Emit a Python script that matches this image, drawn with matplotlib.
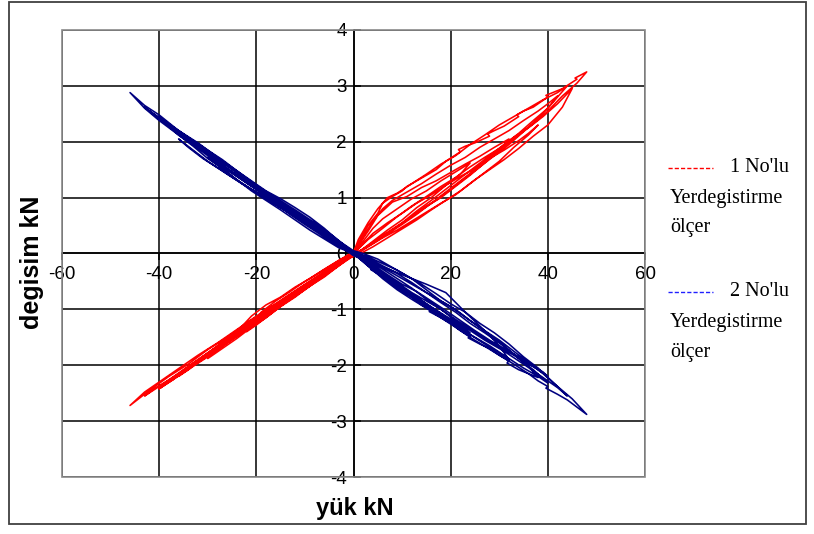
import matplotlib
matplotlib.use("Agg")
import matplotlib.pyplot as plt
from matplotlib.patches import Rectangle
from matplotlib.lines import Line2D
import matplotlib.font_manager as fm

# ---------------- data ----------------
x_ticks = [-60, -40, -20, 0, 20, 40, 60]
y_ticks = [-4, -3, -2, -1, 0, 1, 2, 3, 4]

# series 1 (red) - "1 No'lu Yerdegistirme ölçer", load cycles
red1_x = [0, 2, 4, 6, 9, 12, 15, 18, 21, 24, 22, 19, 16, 13, 10, 7, 4, 1, -2, -5, -8, -11, -14, -17, -20, -22, -19, -16, -13, -10, -7, -4, -1]
red1_y = [0.0, 0.22, 0.45, 0.62, 0.8, 0.98, 1.12, 1.3, 1.46, 1.62, 1.42, 1.22, 1.0, 0.82, 0.6, 0.42, 0.22, 0.02, -0.15, -0.33, -0.5, -0.7, -0.88, -1.08, -1.28, -1.4, -1.05, -0.85, -0.68, -0.5, -0.34, -0.18, -0.02]
red2_x = [0, 3, 5, 8, 11, 14, 17, 20, 23, 26, 29, 32, 30, 27, 24, 21, 18, 15, 12, 9, 6, 3, 0, -3, -6, -9, -12, -15, -18, -21, -24, -27, -30, -27, -24, -21, -18, -15, -12, -9, -6, -3, 0]
red2_y = [0.02, 0.4, 0.68, 0.92, 1.02, 1.18, 1.3, 1.45, 1.6, 1.74, 1.9, 2.05, 1.85, 1.62, 1.4, 1.2, 1.0, 0.85, 0.66, 0.48, 0.3, 0.14, -0.03, -0.2, -0.38, -0.58, -0.78, -0.95, -1.15, -1.32, -1.52, -1.7, -1.88, -1.62, -1.4, -1.12, -0.92, -0.78, -0.6, -0.45, -0.28, -0.12, 0.02]
red3_x = [0, 2, 4, 7, 10, 13, 16, 19, 22, 25, 28, 31, 34, 36, 38, 36, 33, 30, 27, 24, 21, 18, 15, 12, 9, 6, 3, 0, -3, -6, -10, -14, -18, -22, -26, -30, -33, -36, -33, -30, -26, -22, -18, -14, -10, -6, -3, 0]
red3_y = [0.0, 0.18, 0.36, 0.55, 0.72, 0.9, 1.05, 1.22, 1.38, 1.52, 1.7, 1.85, 2.02, 2.15, 2.3, 2.12, 1.9, 1.65, 1.45, 1.25, 1.05, 0.9, 0.74, 0.58, 0.42, 0.28, 0.12, -0.04, -0.22, -0.4, -0.65, -0.88, -1.12, -1.36, -1.6, -1.85, -2.02, -2.2, -1.98, -1.78, -1.52, -1.28, -1.02, -0.8, -0.56, -0.35, -0.18, 0.0]
red4_x = [0, 2, 4, 6, 8, 11, 14, 17, 20, 23, 26, 29, 32, 35, 38, 40, 42, 40, 37, 34, 31, 28, 25, 22, 19, 16, 13, 10, 7, 4, 1, -2, -6, -10, -14, -18, -22, -26, -30, -34, -37, -40, -37, -34, -30, -26, -22, -18, -14, -10, -6, -2, 0]
red4_y = [0.03, 0.3, 0.58, 0.8, 0.95, 1.1, 1.25, 1.42, 1.58, 1.72, 1.9, 2.05, 2.2, 2.38, 2.55, 2.68, 2.82, 2.6, 2.38, 2.15, 1.95, 1.75, 1.55, 1.35, 1.15, 0.95, 0.76, 0.55, 0.38, 0.2, 0.02, -0.14, -0.38, -0.62, -0.86, -1.1, -1.35, -1.58, -1.82, -2.05, -2.25, -2.42, -2.25, -2.05, -1.8, -1.55, -1.32, -1.1, -0.88, -0.64, -0.42, -0.15, 0.01]
red5_x = [0, 3, 6, 9, 12, 15, 18, 21, 24, 27, 30, 33, 36, 39, 42, 45, 43, 40, 37, 34, 31, 28, 25, 22, 19, 16, 13, 10, 7, 4, 1, -2, -6, -10, -14, -18, -22, -26, -30, -34, -38, -41, -43, -40, -36, -32, -28, -24, -20, -16, -12, -8, -4, 0]
red5_y = [0.0, 0.25, 0.45, 0.66, 0.85, 1.02, 1.2, 1.36, 1.55, 1.72, 1.88, 2.08, 2.25, 2.45, 2.68, 2.95, 2.62, 2.3, 2.1, 1.88, 1.68, 1.5, 1.32, 1.12, 0.95, 0.78, 0.6, 0.44, 0.28, 0.12, -0.02, -0.12, -0.35, -0.6, -0.82, -1.06, -1.3, -1.55, -1.78, -2.02, -2.26, -2.42, -2.55, -2.38, -2.15, -1.9, -1.66, -1.42, -1.18, -0.95, -0.72, -0.5, -0.26, 0.0]
red6_x = [0, 2, 3, 5, 6, 8, 10, 11, 13, 16, 17, 19, 22, 21.6, 23, 25, 28, 27.6, 29, 31, 34, 33.6, 35, 37, 40, 39.6, 41, 43, 46, 45.6, 48, 46, 43, 40, 37, 34, 31, 28, 25, 22, 19, 16, 13, 10, 7, 4, 1, -2, -6, -10, -14, -18, -22, -26, -30, -34, -38, -42, -46, -43, -40, -36, -32, -28, -24, -20, -16, -12, -8, -4, 0]
red6_y = [0.02, 0.35, 0.5, 0.72, 0.9, 1.02, 1.12, 1.2, 1.3, 1.45, 1.5, 1.65, 1.82, 1.86, 1.92, 1.98, 2.1, 2.14, 2.2, 2.28, 2.45, 2.48, 2.55, 2.62, 2.8, 2.83, 2.88, 2.95, 3.12, 3.14, 3.25, 3.05, 2.82, 2.55, 2.32, 2.12, 1.92, 1.72, 1.5, 1.3, 1.1, 0.9, 0.7, 0.52, 0.35, 0.18, 0.02, -0.1, -0.32, -0.55, -0.78, -1.02, -1.25, -1.5, -1.72, -1.98, -2.2, -2.45, -2.72, -2.48, -2.3, -2.06, -1.82, -1.6, -1.36, -1.12, -0.9, -0.68, -0.46, -0.24, 0.0]
red7_x = [0, 1, 3, 5, 7, 9, 12, 15, 18, 21, 24, 27, 30, 33, 36, 39, 42, 44, 41, 38, 35, 32, 29, 26, 23, 20, 17, 14, 11, 8, 5, 2, 0, -4, -8, -12, -16, -20, -24, -28, -32, -36, -40, -38, -34, -30, -26, -22, -18, -14, -10, -6, -2, 0]
red7_y = [0.02, 0.25, 0.55, 0.8, 1.0, 1.08, 1.25, 1.42, 1.6, 1.75, 1.95, 2.12, 2.3, 2.45, 2.6, 2.75, 2.88, 3.0, 2.7, 2.42, 2.18, 1.95, 1.75, 1.55, 1.35, 1.15, 0.95, 0.78, 0.6, 0.42, 0.25, 0.08, 0.0, -0.25, -0.5, -0.75, -0.98, -1.22, -1.48, -1.72, -1.95, -2.15, -2.42, -2.3, -2.08, -1.8, -1.55, -1.28, -1.05, -0.82, -0.6, -0.38, -0.1, 0.0]

# series 2 (navy) - "2 No'lu Yerdegistirme ölçer", load cycles
blue1_x = [0, 3, 6, 9, 12, 15, 18, 21, 24, 21, 18, 15, 12, 9, 6, 3, 0, -3, -6, -9, -12, -15, -18, -22, -19, -16, -13, -10, -7, -4, -1]
blue1_y = [0.0, -0.18, -0.35, -0.55, -0.72, -0.9, -1.08, -1.25, -1.42, -1.2, -1.0, -0.82, -0.62, -0.45, -0.28, -0.12, 0.02, 0.18, 0.36, 0.55, 0.72, 0.9, 1.08, 1.28, 1.1, 0.9, 0.7, 0.52, 0.35, 0.18, 0.03]
blue2_x = [0, 3, 6, 9, 12, 15, 18, 21, 24, 27, 30, 32, 30, 27, 23, 19, 15, 10, 5, 0, -3, -6, -9, -12, -15, -18, -21, -24, -27, -30, -27, -24, -21, -18, -15, -12, -9, -6, -3, 0]
blue2_y = [0.02, -0.2, -0.4, -0.6, -0.78, -0.95, -1.12, -1.3, -1.45, -1.62, -1.78, -1.9, -1.65, -1.38, -1.05, -0.7, -0.55, -0.38, -0.2, -0.04, 0.15, 0.32, 0.5, 0.68, 0.86, 1.02, 1.2, 1.38, 1.55, 1.72, 1.52, 1.32, 1.12, 0.95, 0.78, 0.6, 0.42, 0.26, 0.1, 0.0]
blue3_x = [0, 3, 6, 9, 12, 15, 18, 21, 24, 27, 30, 33, 36, 38, 36, 33, 30, 27, 24, 21, 18, 15, 12, 9, 6, 3, 0, -3, -7, -11, -15, -19, -23, -27, -31, -34, -36, -33, -30, -26, -22, -18, -14, -10, -6, -3, 0]
blue3_y = [0.0, -0.22, -0.45, -0.65, -0.82, -0.98, -1.15, -1.32, -1.5, -1.66, -1.82, -1.98, -2.15, -2.22, -2.02, -1.8, -1.6, -1.42, -1.25, -1.05, -0.88, -0.7, -0.52, -0.36, -0.22, -0.08, 0.03, 0.2, 0.42, 0.62, 0.82, 1.05, 1.25, 1.48, 1.7, 1.9, 2.05, 1.85, 1.65, 1.42, 1.2, 0.98, 0.78, 0.56, 0.34, 0.16, 0.0]
blue4_x = [0, 4, 8, 12, 16, 20, 24, 28, 32, 35, 38, 40, 37, 34, 31, 28, 24, 20, 16, 12, 8, 4, 0, -4, -8, -12, -16, -20, -24, -28, -32, -36, -40, -37, -34, -30, -26, -22, -18, -14, -10, -6, -2, 0]
blue4_y = [0.02, -0.25, -0.52, -0.75, -0.98, -1.22, -1.45, -1.65, -1.88, -2.05, -2.2, -2.32, -2.08, -1.88, -1.65, -1.45, -1.2, -0.95, -0.75, -0.55, -0.35, -0.15, 0.0, 0.22, 0.48, 0.72, 0.95, 1.18, 1.4, 1.65, 1.9, 2.15, 2.45, 2.25, 2.05, 1.78, 1.52, 1.3, 1.05, 0.82, 0.6, 0.38, 0.12, 0.02]
blue5_x = [0, 3, 7, 11, 15, 19, 23, 27, 31, 35, 39, 42, 44, 41, 38, 35, 32, 29, 26, 23, 20, 17, 14, 11, 8, 5, 2, 0, -4, -8, -12, -16, -20, -24, -28, -32, -36, -40, -43, -40, -36, -32, -28, -24, -20, -16, -12, -8, -4, 0]
blue5_y = [0.0, -0.2, -0.42, -0.66, -0.9, -1.12, -1.32, -1.55, -1.75, -1.98, -2.22, -2.4, -2.55, -2.3, -2.05, -1.85, -1.62, -1.42, -1.25, -1.05, -0.9, -0.72, -0.55, -0.4, -0.25, -0.1, 0.0, 0.05, 0.28, 0.52, 0.75, 0.98, 1.2, 1.45, 1.7, 1.95, 2.2, 2.4, 2.62, 2.42, 2.18, 1.92, 1.68, 1.45, 1.22, 0.98, 0.75, 0.52, 0.25, 0.0]
blue6_x = [0, 4, 3.6, 6, 8, 10, 12, 14, 16, 15.6, 18, 20, 22, 24, 23.6, 26, 28, 30, 32, 31.6, 34, 36, 38, 40, 39.6, 42, 44, 46, 48, 45, 42, 39, 36, 33, 30, 27, 24, 21, 18, 15, 12, 9, 6, 3, 0, -4, -8, -12, -16, -20, -24, -28, -32, -36, -40, -43, -46, -43, -40, -36, -32, -28, -24, -20, -16, -12, -8, -4, 0]
blue6_y = [0.0, -0.3, -0.29, -0.42, -0.55, -0.68, -0.78, -0.92, -1.02, -1.04, -1.15, -1.25, -1.38, -1.48, -1.51, -1.62, -1.7, -1.82, -1.92, -1.96, -2.08, -2.15, -2.28, -2.38, -2.41, -2.52, -2.62, -2.75, -2.88, -2.6, -2.38, -2.15, -1.95, -1.75, -1.55, -1.38, -1.2, -1.0, -0.85, -0.65, -0.45, -0.3, -0.18, -0.06, 0.02, 0.3, 0.55, 0.78, 1.0, 1.22, 1.48, 1.72, 1.98, 2.2, 2.48, 2.65, 2.88, 2.6, 2.38, 2.12, 1.88, 1.62, 1.38, 1.15, 0.92, 0.68, 0.45, 0.22, 0.0]
blue7_x = [0, 3, 6, 9, 12, 15, 18, 21, 24, 27, 30, 33, 36, 39, 40, 37, 34, 31, 28, 25, 22, 19, 16, 13, 10, 7, 4, 1, -3, -6, -9, -12, -15, -18, -21, -24, -27, -30, -33, -36, -39, -42, -39, -36, -33, -30, -27, -24, -21, -18, -15, -12, -9, -6, -3, 0]
blue7_y = [0.0, -0.15, -0.35, -0.52, -0.7, -0.85, -1.0, -1.18, -1.35, -1.52, -1.68, -1.82, -1.98, -2.12, -2.2, -2.02, -1.85, -1.7, -1.55, -1.38, -1.2, -1.02, -0.85, -0.68, -0.55, -0.38, -0.2, -0.05, 0.22, 0.45, 0.65, 0.82, 0.98, 1.12, 1.3, 1.48, 1.68, 1.85, 2.02, 2.2, 2.38, 2.55, 2.35, 2.12, 1.92, 1.7, 1.52, 1.32, 1.15, 0.98, 0.82, 0.65, 0.48, 0.32, 0.15, 0.02]

red_series_x = red1_x + red2_x + red3_x + red4_x + red5_x + red6_x + red7_x
red_series_y = red1_y + red2_y + red3_y + red4_y + red5_y + red6_y + red7_y
blue_series_x = blue1_x + blue2_x + blue3_x + blue4_x + blue5_x + blue6_x + blue7_x
blue_series_y = blue1_y + blue2_y + blue3_y + blue4_y + blue5_y + blue6_y + blue7_y

x_label = "yük kN"
y_label = "degisim kN"
legend1 = ["1 No'lu", "Yerdegistirme", "ölçer"]
legend2 = ["2 No'lu", "Yerdegistirme", "ölçer"]

# ---------------- fonts ----------------
avail = {f.name for f in fm.fontManager.ttflist}
sans = [f for f in ["Liberation Sans Narrow", "Liberation Sans", "DejaVu Sans"] if f in avail]
serif = [f for f in ["Liberation Serif", "DejaVu Serif"] if f in avail]

RED = "#FF0000"
NAVY = "#000080"

W, H = 814, 534
fig = plt.figure(figsize=(W / 100, H / 100), dpi=100)
fig.patch.set_facecolor("white")

L, R, T, B = 62, 645, 30, 477
ax = fig.add_axes([L / W, 1 - B / H, (R - L) / W, (B - T) / H])
ax.set_xlim(-60, 60)
ax.set_ylim(-4, 4)
ax.set_axisbelow(True)

ax.plot(red_series_x, red_series_y, color=RED, lw=1.15, zorder=3)
ax.plot(blue_series_x, blue_series_y, color=NAVY, lw=1.15, zorder=3)

ax.set_xticks(x_ticks)
ax.set_yticks(y_ticks)
ax.set_xticklabels([str(v) for v in x_ticks])
ax.set_yticklabels([str(v) for v in y_ticks])
ax.grid(True, color="black", lw=1.1)

ax.spines["left"].set_position(("data", 0))
ax.spines["bottom"].set_position(("data", 0))
for s in ["left", "bottom"]:
    ax.spines[s].set_color("black")
    ax.spines[s].set_linewidth(1.1)
for s in ["top", "right"]:
    ax.spines[s].set_visible(False)
ax.add_patch(Rectangle((0, 0), 1, 1, transform=ax.transAxes, fill=False,
                       edgecolor="#8a8a8a", lw=1.2, zorder=2.6, clip_on=False))
ax.tick_params(axis="y", direction="in", length=5, width=1.1, pad=5,
               colors="black", labelsize=13.5)
ax.tick_params(axis="x", direction="out", length=5, width=1.1, pad=4,
               colors="black", labelsize=13.5)
for lab in ax.get_xticklabels() + ax.get_yticklabels():
    lab.set_fontfamily(sans)
    lab.set_fontsize(13.5)

# axis titles
fig.text(355 / W, 1 - 508 / H, x_label, ha="center", va="center",
         fontsize=17, fontweight="bold", family=sans)
fig.text(32 / W, 1 - 262 / H, y_label, ha="center", va="center", rotation=90,
         fontsize=18, fontweight="bold", family=sans)

# legend (manual, to the right of the plot)
def legend_block(y0, color, lines):
    fig.add_artist(Line2D([668 / W, 713 / W], [1 - y0 / H, 1 - y0 / H],
                          transform=fig.transFigure, color=color, lw=1.0,
                          dashes=(3, 1.5)))
    fig.text(730 / W, 1 - y0 / H, lines[0], ha="left", va="center",
             fontsize=14.5, family=serif)
    fig.text(670 / W, 1 - (y0 + 30) / H, lines[1], ha="left", va="center",
             fontsize=14.5, family=serif)
    fig.text(670 / W, 1 - (y0 + 60) / H, lines[2], ha="left", va="center",
             fontsize=14.5, family=serif)

legend_block(168, RED, legend1)
legend_block(292, "#2020FF", legend2)

# outer chart frame
fig.add_artist(Rectangle((9 / W, 1 - 524 / H), (806 - 9) / W, (524 - 2) / H,
                         transform=fig.transFigure, fill=False,
                         edgecolor="#404040", lw=1.3))

fig.savefig("out.png", dpi=100)
